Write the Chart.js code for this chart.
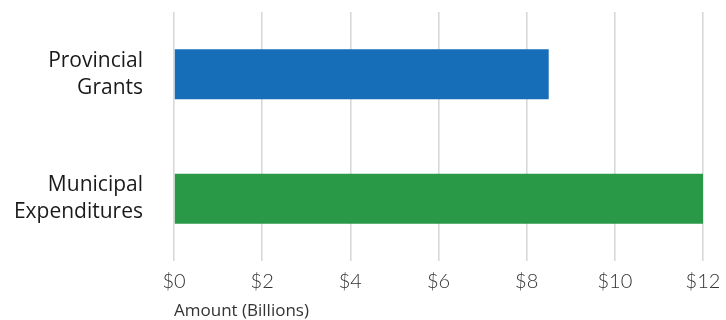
<!DOCTYPE html>
<html>
<head>
<meta charset="utf-8">
<script src="https://cdn.jsdelivr.net/npm/chart.js@4/dist/chart.umd.min.js"></script>
<style>
  html, body { margin: 0; padding: 0; background: #ffffff; }
  #wrap { width: 726px; height: 320px; position: relative; }
</style>
</head>
<body>
<div id="wrap"><canvas id="chart"></canvas></div>
<script>
// Funding comparison, in billions of dollars
const categories = [["Provincial", "Grants"], ["Municipal", "Expenditures"]];
const amounts = [8.5, 12];
const barColors = ["#176eb8", "#299948"];
const axisMax = 12;
const tickStep = 2;
const axisTitle = "Amount (Billions)";

new Chart(document.getElementById("chart"), {
  type: "bar",
  data: {
    labels: categories,
    datasets: [{
      data: amounts,
      backgroundColor: barColors,
      borderWidth: 0,
      barPercentage: 0.4,
      categoryPercentage: 1.0
    }]
  },
  options: {
    indexAxis: "y",
    responsive: true,
    maintainAspectRatio: false,
    animation: false,
    layout: { padding: { top: 12, right: 0, bottom: 0, left: 0 } },
    plugins: {
      legend: { display: false },
      tooltip: { enabled: false }
    },
    scales: {
      x: {
        min: 0,
        max: axisMax,
        afterFit: (scale) => {
          // room on the right for the last tick label
          scale.paddingLeft = 0;
          scale.paddingRight = 23;
        },
        ticks: {
          stepSize: tickStep,
          padding: 11,
          color: "#333333",
          font: { family: "Lato", size: 20, weight: "300", lineHeight: 1.0 },
          callback: (v) => "$" + v
        },
        grid: { display: true, color: "#d9d9d9", lineWidth: 1.6, drawTicks: false },
        border: { display: false },
        title: {
          display: true,
          text: axisTitle,
          align: "start",
          color: "#333333",
          font: { family: "Open Sans", size: 17, weight: "400", lineHeight: 1.0 },
          padding: { top: 0, bottom: 0 }
        }
      },
      y: {
        afterFit: (scale) => {
          // fixed gutter for the category labels; no extra vertical room
          scale.width = 174;
          scale.paddingTop = 0;
          scale.paddingBottom = 0;
        },
        ticks: {
          color: "#1a1a1a",
          padding: 31,
          font: { family: "Open Sans", size: 21, weight: "500", lineHeight: 1.28 }
        },
        grid: { display: false, drawTicks: false },
        border: { display: false }
      }
    }
  }
});
</script>
</body>
</html>
